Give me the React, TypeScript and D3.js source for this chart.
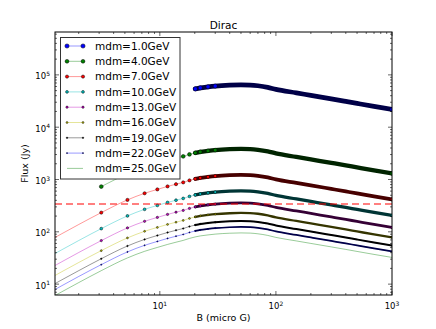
import React from "react";
import * as d3 from "d3";

// Magnetic field values (micro G) where fluxes were read
const B_FIELD = [1, 2, 3.13, 5.26, 7.39, 9.52, 11.65, 13.78, 15.9, 18, 20.2, 22.3, 26, 30, 40, 50, 60, 70, 85, 100, 150, 200, 300, 400, 500, 700, 1000];

// Flux (Jy) per dark-matter mass
const FLUX_MDM1 = [null, null, null, null, null, null, null, null, null, null, 54000, 56400, 59000, 61100, 63600, 64400, 63800, 61900, 57700, 52800, 45300, 40600, 34800, 31100, 28500, 25000, 21900];
const FLUX_MDM4 = [null, null, 732, 1281, 1712, 2034, 2320, 2558, 2768, 3022, 3229, 3373, 3526, 3652, 3800, 3850, 3817, 3701, 3449, 3159, 2707, 2426, 2079, 1862, 1705, 1494, 1309];
const FLUX_MDM7 = [59.2, 137.9, 233, 407.6, 544.9, 647, 738.3, 813.8, 880.7, 961.5, 1027, 1073, 1122, 1162, 1209, 1225, 1214, 1177, 1097, 1005, 861, 772, 661, 592, 543, 475, 417];
const FLUX_MDM10 = [29.2, 68.1, 115.1, 201.3, 269.1, 319.6, 364.6, 401.9, 434.9, 474.9, 507.4, 530.1, 554.1, 574.0, 597.1, 605, 599.7, 581.5, 542.0, 496.3, 425.4, 381.2, 326.6, 292.6, 268.0, 234.7, 205.7];
const FLUX_MDM13 = [17.2, 40.2, 67.9, 118.8, 158.8, 188.6, 215.2, 237.2, 256.6, 280.2, 299.4, 312.8, 326.9, 338.7, 352.4, 357, 353.9, 343.1, 319.8, 292.9, 251.0, 224.9, 192.7, 172.6, 158.1, 138.5, 121.4];
const FLUX_MDM16 = [11.1, 25.9, 43.7, 76.5, 102.3, 121.5, 138.6, 152.8, 165.3, 180.5, 192.9, 201.5, 210.6, 218.2, 227.0, 230, 228.0, 221.1, 206.1, 188.7, 161.7, 144.9, 124.2, 111.2, 101.9, 89.2, 78.2];
const FLUX_MDM19 = [7.78, 18.1, 30.6, 53.6, 71.6, 85.0, 97.0, 107.0, 115.7, 126.4, 135.0, 141.1, 147.4, 152.7, 158.9, 161, 159.6, 154.8, 144.2, 132.1, 113.2, 101.4, 86.9, 77.9, 71.3, 62.5, 54.7];
const FLUX_MDM22 = [5.99, 14.0, 23.6, 41.3, 55.2, 65.5, 74.7, 82.4, 89.1, 97.3, 104.0, 108.6, 113.6, 117.6, 122.4, 124, 122.9, 119.2, 111.1, 101.7, 87.2, 78.1, 66.9, 60.0, 54.9, 48.1, 42.2];
const FLUX_MDM25 = [4.60, 10.7, 18.1, 31.7, 42.4, 50.3, 57.4, 63.3, 68.5, 74.8, 79.9, 83.5, 87.3, 90.4, 94.1, 95.3, 94.5, 91.6, 85.4, 78.2, 67.0, 60.0, 51.5, 46.1, 42.2, 37.0, 32.4];

const SERIES_LABELS = ["mdm=1.0GeV", "mdm=4.0GeV", "mdm=7.0GeV", "mdm=10.0GeV", "mdm=13.0GeV", "mdm=16.0GeV", "mdm=19.0GeV", "mdm=22.0GeV", "mdm=25.0GeV"];
const SERIES_FLUX = [FLUX_MDM1, FLUX_MDM4, FLUX_MDM7, FLUX_MDM10, FLUX_MDM13, FLUX_MDM16, FLUX_MDM19, FLUX_MDM22, FLUX_MDM25];

const THRESHOLD_FLUX = 341;
const X_MAJOR = [10, 100, 1000];
const X_EXP = ["1", "2", "3"];
const Y_MAJOR = [10, 100, 1000, 10000, 100000];
const Y_EXP = ["1", "2", "3", "4", "5"];

const COLORS = ["#0000ff", "#008000", "#ff0000", "#00bfbf", "#bf00bf", "#bfbf00", "#000000", "#0000ff", "#008000"];
const RADII = [2.1, 1.9, 1.6, 1.4, 1.15, 0.95, 0.75, 0.6, 0];

const FONT = "DejaVu Sans";

export default function App() {
  const W = 436, H = 329;
  const L = 55, R = 392, T = 32, Bm = 295;
  const x = d3.scaleLog().domain([1.25, 1000]).range([L, R]);
  const y = d3.scaleLog().domain([6.2, 6.6e5]).range([Bm, T]);

  const line = d3.line<[number, number]>().x(d => x(d[0])).y(d => y(d[1])).curve(d3.curveMonotoneX);

  const xMinor = x.ticks().filter(v => !X_MAJOR.includes(v));
  const yMinor = y.ticks().filter(v => !Y_MAJOR.some(m => Math.abs(m - v) / m < 1e-6));

  const series = SERIES_FLUX.map((f, i) => {
    const pts = B_FIELD.map((b, j) => [b, f[j]] as [number, any]).filter(p => p[1] != null) as [number, number][];
    return { pts, color: COLORS[i], r: RADII[i], label: SERIES_LABELS[i] };
  });

  const legendY = (i: number) => 46 + i * 15.3;

  return (
    <svg width={W} height={H} style={{ position: "absolute", left: 0, top: 0, background: "#fff" }} fontFamily={FONT}>
      <defs>
        <clipPath id="plot"><rect x={L} y={T} width={R - L} height={Bm - T} /></clipPath>
      </defs>
      <rect x={0} y={0} width={W} height={H} fill="#fff" />
      <g clipPath="url(#plot)">
        {series.map((s, i) => (
          <path key={"l" + i} d={line(s.pts) || ""} fill="none" stroke={s.color} strokeOpacity={0.4} strokeWidth={1} />
        ))}
        {series.map((s, i) => {
          if (s.r <= 0) return null;
          const band = s.pts.filter(p => p[0] >= 20);
          const dark = d3.interpolateRgb(s.color, "#000")(0.72);
          return (
            <path key={"b" + i} d={line(band) || ""} fill="none" stroke={dark} strokeWidth={2 * s.r + 0.5} strokeLinecap="round" />
          );
        })}
        {series.map((s, i) => {
          if (s.r <= 0) return null;
          const pts = s.pts.filter(p => p[0] >= 3 && p[0] <= 30);
          const last = s.pts[s.pts.length - 1];
          return (
            <g key={"m" + i}>
              {pts.concat([last]).map((p, j) => (
                <circle key={j} cx={x(p[0])} cy={y(p[1])} r={s.r} fill={s.color} stroke="#000" strokeWidth={0.5} />
              ))}
            </g>
          );
        })}
        <line x1={L} x2={R} y1={y(THRESHOLD_FLUX)} y2={y(THRESHOLD_FLUX)} stroke="#ff0000" strokeOpacity={0.5} strokeWidth={2} strokeDasharray="7,4" />
      </g>

      {/* ticks */}
      <g stroke="#000" strokeWidth={0.6}>
        {X_MAJOR.map(v => (
          <g key={"xm" + v}>
            <line x1={x(v)} x2={x(v)} y1={Bm} y2={Bm - 4} />
            <line x1={x(v)} x2={x(v)} y1={T} y2={T + 4} />
          </g>
        ))}
        {xMinor.map(v => (
          <g key={"xn" + v}>
            <line x1={x(v)} x2={x(v)} y1={Bm} y2={Bm - 2} />
            <line x1={x(v)} x2={x(v)} y1={T} y2={T + 2} />
          </g>
        ))}
        {Y_MAJOR.map(v => (
          <g key={"ym" + v}>
            <line x1={L} x2={L + 4} y1={y(v)} y2={y(v)} />
            <line x1={R} x2={R - 4} y1={y(v)} y2={y(v)} />
          </g>
        ))}
        {yMinor.map(v => (
          <g key={"yn" + v}>
            <line x1={L} x2={L + 2} y1={y(v)} y2={y(v)} />
            <line x1={R} x2={R - 2} y1={y(v)} y2={y(v)} />
          </g>
        ))}
      </g>
      <rect x={L} y={T} width={R - L} height={Bm - T} fill="none" stroke="#000" strokeWidth={1} />

      {/* tick labels */}
      {X_MAJOR.map((v, i) => (
        <text key={"xl" + v} x={x(v)} y={309} textAnchor="middle" fontSize={8.5} fill="#000">
          10<tspan dy={-3.5} fontSize={6}>{X_EXP[i]}</tspan>
        </text>
      ))}
      {Y_MAJOR.map((v, i) => (
        <text key={"yl" + v} x={50} y={y(v) + 4.5} textAnchor="end" fontSize={8.5} fill="#000">
          10<tspan dy={-3.5} fontSize={6}>{Y_EXP[i]}</tspan>
        </text>
      ))}

      <text x={(L + R) / 2} y={29} textAnchor="middle" fontSize={10.5} fill="#000">Dirac</text>
      <text x={(L + R) / 2} y={321} textAnchor="middle" fontSize={9.5} fill="#000">B (micro G)</text>
      <text transform={`translate(28,${(T + Bm) / 2}) rotate(-90)`} textAnchor="middle" fontSize={9.5} fill="#000">Flux (Jy)</text>

      {/* legend */}
      <rect x={60.5} y={37.5} width={119.5} height={141.5} fill="#fff" stroke="#333" strokeWidth={1} />
      {series.map((s, i) => (
        <g key={"lg" + i}>
          <line x1={67} x2={83} y1={legendY(i)} y2={legendY(i)} stroke={s.color} strokeOpacity={0.4} strokeWidth={1} />
          {s.r > 0 && [67, 83].map(cx => (
            <circle key={cx} cx={cx} cy={legendY(i)} r={s.r} fill={s.color} stroke="#000" strokeWidth={0.5} />
          ))}
          <text x={95} y={legendY(i) + 3.8} fontSize={10.5} fill="#000">{s.label}</text>
        </g>
      ))}
    </svg>
  );
}
